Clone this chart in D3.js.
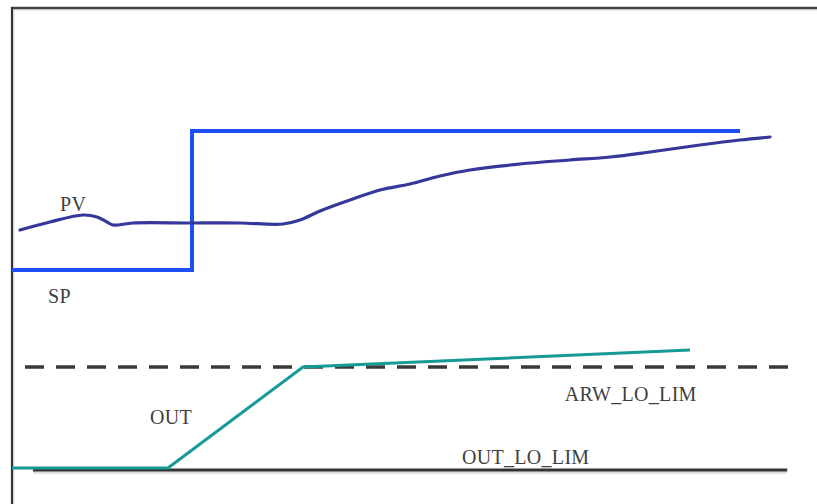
<!DOCTYPE html>
<html>
<head>
<meta charset="utf-8">
<script src="https://cdn.jsdelivr.net/npm/d3@7/dist/d3.min.js"></script>
<style>
  html, body { margin: 0; padding: 0; background: #ffffff; }
  svg { display: block; }
</style>
</head>
<body>
<svg id="chart" width="817" height="504"></svg>
<script>
// ---- data (time in %, signal in %) ----
const pvTime  = [1, 4.75, 8.875, 10.625, 11.875, 12.625, 15.125, 22.25, 28.5, 33.875, 36, 38.5, 42.25, 46, 49.75, 53.5, 57.25, 63.5, 69.75, 74.75, 79.75, 86, 91, 94.75];
const pvValue = [60, 62, 63.75, 63.25, 62, 61.25, 61.75, 61.75, 61.75, 61.5, 62.5, 64.75, 67.5, 70, 71.5, 73.5, 75, 76.5, 77.5, 78.25, 79.5, 81.25, 82.5, 83.25];

const spTime  = [0, 22.5, 22.5, 91];
const spValue = [50, 50, 84.75, 84.75];

const outTime  = [0, 19.5, 36.375, 84.75];
const outValue = [0.5, 0.5, 25.75, 30];

const arwLoLim = 25.75;
const arwSpan  = [1.625, 98.1];
const outLoLim = 0;
const outLoSpan = [2.625, 96.9];

const labels = [
  { text: "PV",         t: 6,     v: 64.75 },
  { text: "SP",         t: 4.5,   v: 41.75 },
  { text: "OUT",        t: 17.25, v: 11.5 },
  { text: "ARW_LO_LIM", t: 69.1,  v: 17.25 },
  { text: "OUT_LO_LIM", t: 56.25, v: 1.5 }
];

// ---- scales ----
const W = 817, H = 504;
const x = d3.scaleLinear().domain([0, 100]).range([12, 812]);
const y = d3.scaleLinear().domain([0, 100]).range([470, 70]);

const svg = d3.select("#chart");

// frame (top and left edges only)
svg.append("line").attr("x1", 13).attr("x2", 817).attr("y1", 10).attr("y2", 10)
  .attr("stroke", "#ececec").attr("stroke-width", 2);
svg.append("line").attr("x1", 14).attr("x2", 14).attr("y1", 8).attr("y2", 504)
  .attr("stroke", "#ececec").attr("stroke-width", 2);
svg.append("line").attr("x1", 11).attr("x2", 817).attr("y1", 8).attr("y2", 8)
  .attr("stroke", "#444").attr("stroke-width", 2.5);
svg.append("line").attr("x1", 12).attr("x2", 12).attr("y1", 7).attr("y2", 504)
  .attr("stroke", "#333").attr("stroke-width", 2.2);

const line = d3.line().x(d => x(d[0])).y(d => y(d[1]));

// OUT_LO_LIM (solid black) with a faint shadow
svg.append("path")
  .datum(outLoSpan.map(t => [t, outLoLim]))
  .attr("d", line).attr("transform", "translate(0,2.5)")
  .attr("fill", "none").attr("stroke", "#dcdcdc").attr("stroke-width", 2.5);
svg.append("path")
  .datum(outLoSpan.map(t => [t, outLoLim]))
  .attr("d", line)
  .attr("fill", "none").attr("stroke", "#333").attr("stroke-width", 3);

// ARW_LO_LIM (dashed)
svg.append("path")
  .datum(arwSpan.map(t => [t, arwLoLim]))
  .attr("d", line)
  .attr("fill", "none").attr("stroke", "#3a3a3a").attr("stroke-width", 3.5)
  .attr("stroke-dasharray", "19,12");

// SP (bright blue step)
svg.append("path")
  .datum(spTime.map((t, i) => [t, spValue[i]]))
  .attr("d", line)
  .attr("fill", "none").attr("stroke", "#1f4ef5").attr("stroke-width", 4)
  .attr("stroke-linejoin", "miter");

// PV (dark indigo, smooth)
svg.append("path")
  .datum(pvTime.map((t, i) => [t, pvValue[i]]))
  .attr("d", d3.line().x(d => x(d[0])).y(d => y(d[1])).curve(d3.curveCatmullRom.alpha(0.5)))
  .attr("fill", "none").attr("stroke", "#35379a").attr("stroke-width", 3.2)
  .attr("stroke-linecap", "round");

// OUT (teal)
svg.append("path")
  .datum(outTime.map((t, i) => [t, outValue[i]]))
  .attr("d", line)
  .attr("fill", "none").attr("stroke", "#159a98").attr("stroke-width", 3);

// labels
svg.append("g").selectAll("text").data(labels).join("text")
  .attr("x", d => x(d.t)).attr("y", d => y(d.v))
  .attr("font-family", "'Liberation Serif', 'Times New Roman', serif")
  .attr("font-size", 20)
  .attr("letter-spacing", 0.3)
  .attr("fill", "#3f3f3f")
  .text(d => d.text);
</script>
</body>
</html>
